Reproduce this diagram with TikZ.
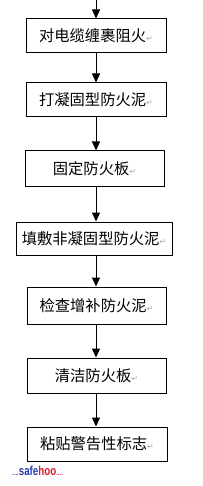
\documentclass[tikz,border=0pt]{standalone}
\usepackage{fontspec}
\newfontfamily\cjk{Noto Sans CJK SC}
\newfontfamily\dejavu{DejaVu Sans}
\newfontfamily\wmfont{Liberation Sans}
\usetikzlibrary{arrows.meta}
\definecolor{wmblue}{RGB}{40,60,170}
\definecolor{wmred}{RGB}{210,30,40}
\newcommand{\retmark}{{\dejavu\fontsize{8}{8}\selectfont\color{gray!70}↵}}
\tikzset{
  stepbox/.style={draw=black, line width=1pt, minimum height=34pt, inner sep=0pt,
    font=\cjk\fontsize{15.3}{17}\selectfont, anchor=center},
  arr/.style={line width=1pt, -{Triangle[length=9pt,width=8pt]}},
}
\begin{document}
\begin{tikzpicture}[x=1pt,y=-1pt]
\useasboundingbox (0,0) rectangle (202,486);
\node[stepbox, minimum width=140pt] (b1) at (96,36) {对电缆缠裹阻火\retmark};
\node[stepbox, minimum width=140pt] (b2) at (96,100) {打凝固型防火泥\retmark};
\node[stepbox, minimum width=139pt, minimum height=35pt] (b3) at (94.5,168.5) {固定防火板\retmark};
\node[stepbox, minimum width=156pt, minimum height=33pt] (b4) at (94,238.5) {填敷非凝固型防火泥\retmark};
\node[stepbox, minimum width=139pt, minimum height=37pt] (b5) at (96.5,305.5) {检查增补防火泥\retmark};
\node[stepbox, minimum width=139pt, minimum height=35pt] (b6) at (96.5,375.5) {清洁防火板\retmark};
\node[stepbox, minimum width=140pt] (b7) at (97,444) {粘贴警告性标志\retmark};
\coordinate (top) at (96,0);
\draw[arr] (top) -- (top |- b1.north);
\draw[arr] (b1.south -| top) -- (top |- b2.north);
\draw[arr] (b2.south -| top) -- (top |- b3.north);
\draw[arr] (b3.south -| top) -- (top |- b4.north);
\draw[arr] (b4.south -| top) -- (top |- b5.north);
\draw[arr] (b5.south -| top) -- (top |- b6.north);
\draw[arr] (b6.south -| top) -- (top |- b7.north);
\node[anchor=west, inner sep=0pt, font=\wmfont\bfseries\fontsize{13}{13}\selectfont] (wm) at (12,471)
  {\textcolor{wmblue}{\fontsize{6}{6}\selectfont ....}\textcolor{wmblue}{\scalebox{0.75}[1]{safe}}\textcolor{wmred}{\scalebox{0.75}[1]{hoo}}\textcolor{wmred}{\fontsize{6}{6}\selectfont ....}};
\end{tikzpicture}
\end{document}
